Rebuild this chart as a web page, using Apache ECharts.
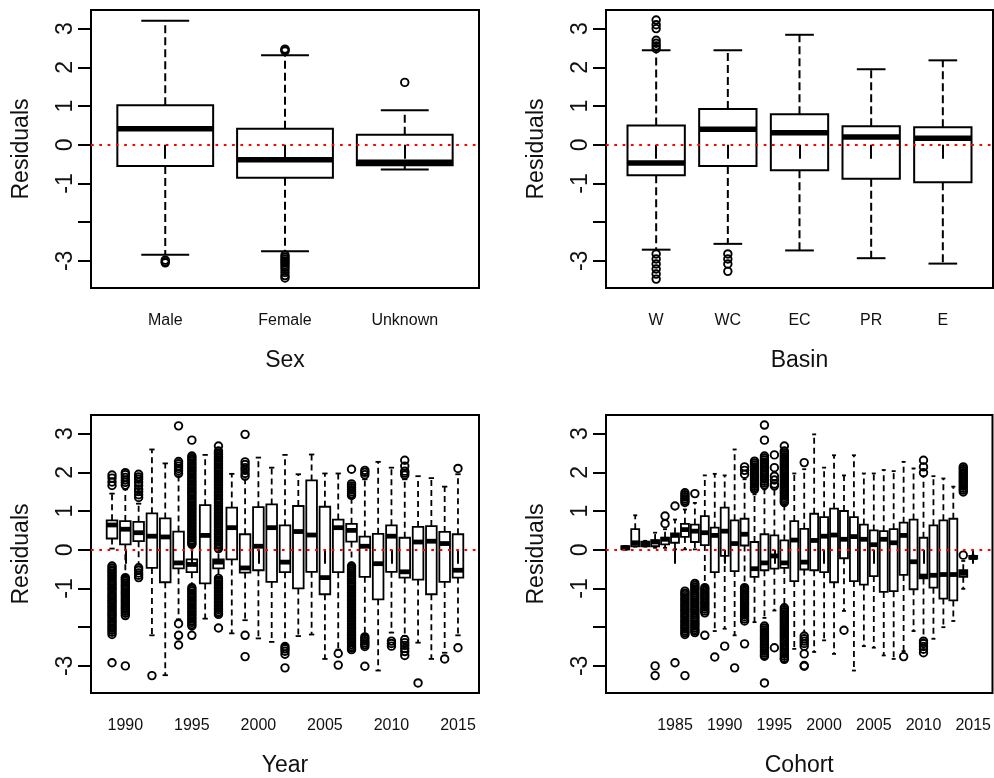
<!DOCTYPE html>
<html><head><meta charset="utf-8">
<script src="https://cdn.jsdelivr.net/npm/echarts@6.0.0/dist/echarts.min.js"></script>
<style>html,body{margin:0;padding:0;background:#fff}#c{width:994px;height:778px}</style>
</head><body><div id="c"></div><script>
// ---------- DATA ----------
var yTicks = [-3, -2, -1, 0, 1, 2, 3];
var yTickLabels = [-3, -1, 0, 1, 2, 3];

var sexCats = ['Male', 'Female', 'Unknown'];
// [lower whisker, Q1, median, Q3, upper whisker]
var sexStats = [
  [-2.84, -0.55, 0.41, 1.02, 3.20],
  [-2.75, -0.85, -0.39, 0.41, 2.31],
  [-0.64, -0.53, -0.45, 0.26, 0.89]
];
var sexOutliers = [
  [-2.98, -3.02, -3.05],
  [2.42, 2.45, 2.47, -2.85, -2.9, -2.95, -3.0, -3.05, -3.1, -3.16, -3.22, -3.3, -3.38, -3.44],
  [1.61]
];

var basinCats = ['W', 'WC', 'EC', 'PR', 'E'];
var basinStats = [
  [-2.71, -0.79, -0.47, 0.50, 2.44],
  [-2.56, -0.55, 0.40, 0.92, 2.44],
  [-2.73, -0.66, 0.31, 0.79, 2.84],
  [-2.93, -0.88, 0.20, 0.48, 1.95],
  [-3.07, -0.97, 0.17, 0.45, 2.18]
];
var basinOutliers = [
  [3.22, 3.1, 3.0, 2.7, 2.62, 2.55, 2.48, -2.82, -2.95, -3.08, -3.21, -3.34, -3.47],
  [-2.82, -2.95, -3.08, -3.27],
  [], [], []
];

var years = [1989,1990,1991,1992,1993,1994,1995,1996,1997,1998,1999,2000,2001,2002,2003,2004,2005,2006,2007,2008,2009,2010,2011,2012,2013,2014,2015];
var yearTicks = [1990, 1995, 2000, 2005, 2010, 2015];
var yearStats = [
  [0.03, 0.29, 0.64, 0.76, 1.45],
  [-0.68, 0.14, 0.53, 0.74, 1.56],
  [-0.38, 0.22, 0.44, 0.72, 1.19],
  [-2.21, -0.47, 0.35, 0.94, 2.59],
  [-3.24, -0.84, 0.33, 0.81, 2.23],
  [-1.80, -0.48, -0.34, 0.47, 1.90],
  [-0.90, -0.58, -0.38, -0.25, 0.10],
  [-1.78, -0.87, 0.37, 1.15, 2.45],
  [-0.70, -0.48, -0.32, -0.25, -0.02],
  [-2.16, -0.25, 0.57, 1.09, 1.96],
  [-1.82, -0.59, -0.47, 0.40, 1.82],
  [-2.29, -0.53, 0.09, 1.10, 2.38],
  [-2.38, -0.83, 0.57, 1.17, 2.12],
  [-2.45, -0.58, -0.32, 0.63, 2.45],
  [-2.23, -1.00, 0.47, 1.13, 1.95],
  [-2.19, -0.57, 0.38, 1.79, 2.46],
  [-2.82, -1.15, -0.72, 1.11, 1.97],
  [-2.58, -0.58, 0.57, 0.78, 1.97],
  [-0.34, 0.21, 0.50, 0.67, 1.34],
  [-2.19, -0.70, 0.09, 0.34, 1.82],
  [-3.12, -1.28, -0.36, 0.41, 2.27],
  [-2.14, -0.57, 0.35, 0.63, 2.12],
  [-2.23, -0.72, -0.57, 0.31, 1.82],
  [-2.40, -0.77, 0.20, 0.59, 1.90],
  [-2.82, -1.15, 0.22, 0.61, 1.85],
  [-2.66, -0.83, 0.16, 0.46, 1.63],
  [-2.21, -0.72, -0.53, 0.40, 1.95]
];
var yearOutliers = [
  [1.93,1.85,1.75,1.66,-0.42,-0.47,-0.52,-0.56,-0.61,-0.66,-0.7,-0.75,-0.8,-0.85,-0.89,-0.94,-0.99,-1.03,-1.08,-1.13,-1.18,-1.22,-1.27,-1.32,-1.36,-1.41,-1.46,-1.5,-1.55,-1.6,-1.65,-1.69,-1.74,-1.79,-1.84,-1.88,-1.93,-1.98,-2.03,-2.08,-2.13,-2.19,-2.92],
  [1.99,1.94,1.87,1.8,1.74,1.67,-0.72,-0.76,-0.81,-0.86,-0.91,-0.95,-1.0,-1.05,-1.1,-1.14,-1.19,-1.24,-1.29,-1.34,-1.39,-1.44,-1.49,-1.54,-1.59,-1.64,-1.7,-3.0],
  [1.95,1.88,1.82,1.74,1.66,1.57,1.5,1.42,1.35,-0.47,-0.53,-0.6,-0.66,-0.72],
  [-3.25],
  [],
  [3.2,2.28,2.22,2.16,2.1,2.04,1.97,-1.91,-2.21,-2.46],
  [2.83,2.42,2.38,2.33,2.29,2.24,2.2,2.15,2.11,2.06,2.02,1.97,1.93,1.88,1.84,1.79,1.75,1.7,1.66,1.61,1.57,1.52,1.48,1.43,1.39,1.34,1.3,1.25,1.21,1.16,1.12,1.07,1.03,0.98,0.94,0.89,0.85,0.8,0.76,0.71,0.67,0.62,0.58,0.53,0.49,0.44,0.4,0.35,0.31,0.26,0.22,0.17,0.14,-0.98,-1.03,-1.07,-1.12,-1.16,-1.21,-1.25,-1.3,-1.34,-1.39,-1.43,-1.48,-1.52,-1.57,-1.61,-1.66,-1.7,-1.75,-1.79,-1.84,-1.88,-1.93,-1.97,-2.21],
  [],
  [2.68,2.55,2.5,2.46,2.41,2.37,2.32,2.28,2.23,2.19,2.14,2.1,2.05,2.01,1.96,1.92,1.87,1.83,1.78,1.74,1.69,1.65,1.6,1.56,1.51,1.47,1.42,1.39,1.33,1.29,1.24,1.2,1.15,1.11,1.06,1.02,0.97,0.93,0.88,0.84,0.79,0.75,0.7,0.66,0.61,0.57,0.52,0.48,0.43,0.39,0.34,0.3,0.25,0.21,0.16,0.12,0.07,0.03,-0.74,-0.79,-0.83,-0.88,-0.92,-0.97,-1.01,-1.06,-1.1,-1.15,-1.19,-1.24,-1.28,-1.33,-1.37,-1.42,-1.46,-1.51,-1.55,-1.6,-1.64,-1.67,-2.02],
  [],
  [2.98,2.27,2.2,2.12,2.05,1.97,1.9,-2.21,-2.76],
  [],
  [],
  [-2.5,-2.56,-2.62,-2.7,-3.05],
  [],
  [],
  [],
  [-2.68,-2.98],
  [2.08,1.7,1.65,1.6,1.55,1.5,1.45,1.4,-0.42,-0.47,-0.51,-0.56,-0.6,-0.65,-0.69,-0.74,-0.78,-0.83,-0.87,-0.92,-0.96,-1.01,-1.05,-1.1,-1.14,-1.19,-1.23,-1.28,-1.32,-1.37,-1.41,-1.46,-1.5,-1.55,-1.59,-1.64,-1.68,-1.73,-1.77,-1.82,-1.86,-1.91,-1.95,-2.0,-2.04,-2.09,-2.13,-2.18,-2.22,-2.27,-2.31,-2.36,-2.4,-2.45,-2.5,-2.54,-2.58],
  [2.05,2.0,1.94,-2.25,-2.3,-2.35,-2.4,-2.45,-2.5,-3.01],
  [],
  [-2.36,-2.42,-2.49],
  [2.31,2.16,2.03,1.98,1.93,-2.32,-2.4,-2.47,-2.55,-2.63,-2.73],
  [-3.44],
  [],
  [-2.82],
  [2.10,-2.53]
];

var cohorts = [1980,1981,1982,1983,1984,1985,1986,1987,1988,1989,1990,1991,1992,1993,1994,1995,1996,1997,1998,1999,2000,2001,2002,2003,2004,2005,2006,2007,2008,2009,2010,2011,2012,2013,2014,2015];
var cohortTicks = [1985, 1990, 1995, 2000, 2005, 2010, 2015];
var cohortStats = [
  [0.00, 0.01, 0.05, 0.09, 0.10],
  [0.08, 0.09, 0.18, 0.53, 0.89],
  [0.08, 0.09, 0.16, 0.21, 0.23],
  [0.05, 0.09, 0.20, 0.25, 0.44],
  [0.05, 0.14, 0.27, 0.31, 0.53],
  [0.01, 0.18, 0.37, 0.42, 0.78],
  [0.01, 0.33, 0.52, 0.67, 1.04],
  [0.01, 0.20, 0.48, 0.65, 1.21],
  [-0.94, 0.12, 0.44, 0.87, 1.92],
  [-2.10, -0.58, 0.37, 0.57, 1.96],
  [-2.04, -0.16, 0.48, 1.09, 1.92],
  [-2.21, -0.55, 0.16, 0.76, 2.59],
  [-0.94, 0.11, 0.40, 0.80, 1.82],
  [-1.87, -0.70, -0.49, 0.20, 1.43],
  [-1.76, -0.53, -0.34, 0.40, 1.56],
  [-1.57, -0.49, -0.16, 0.37, 1.56],
  [-1.46, -0.47, -0.34, 0.24, 1.13],
  [-2.56, -0.81, 0.25, 0.74, 1.97],
  [-2.14, -0.51, -0.32, 0.54, 2.08],
  [-2.64, -0.53, 0.24, 0.93, 2.98],
  [-2.34, -0.58, 0.35, 0.84, 2.12],
  [-2.69, -0.84, 0.38, 1.06, 2.44],
  [-1.58, -0.22, 0.27, 1.00, 1.92],
  [-3.12, -0.81, 0.34, 0.84, 2.44],
  [-2.49, -0.90, 0.27, 0.65, 1.97],
  [-2.53, -0.68, 0.13, 0.50, 1.97],
  [-2.73, -1.09, 0.27, 0.48, 2.06],
  [-2.82, -1.07, 0.18, 0.53, 2.03],
  [-2.62, -0.65, 0.37, 0.70, 2.27],
  [-2.10, -1.02, -0.31, 0.78, 2.10],
  [-2.32, -0.74, -0.68, 0.31, 1.90],
  [-2.30, -0.98, -0.66, 0.63, 1.90],
  [-2.00, -1.26, -0.64, 0.76, 1.84],
  [-1.84, -1.31, -0.64, 0.80, 1.63],
  [-1.01, -0.70, -0.61, -0.53, -0.29],
  [-0.24, -0.23, -0.20, -0.16, -0.15]
];
var cohortOutliers = [
  [], [], [],
  [-3.0, -3.25],
  [0.87, 0.67],
  [1.13, -2.92],
  [1.47,1.42,1.37,1.32,1.27,1.22,-1.07,-1.12,-1.16,-1.21,-1.26,-1.3,-1.35,-1.4,-1.44,-1.49,-1.54,-1.58,-1.63,-1.68,-1.72,-1.77,-1.82,-1.86,-1.91,-1.96,-2.0,-2.05,-2.1,-2.14,-2.19,-3.25],
  [1.45,-0.87,-0.92,-0.97,-1.01,-1.06,-1.11,-1.16,-1.2,-1.25,-1.3,-1.35,-1.39,-1.44,-1.49,-1.54,-1.58,-1.63,-1.68,-1.73,-1.77,-1.82,-1.87,-1.92,-1.96,-2.01,-2.06,-2.1,-2.14],
  [-0.98,-1.03,-1.08,-1.13,-1.18,-1.23,-1.28,-1.33,-1.38,-1.43,-1.48,-1.53,-1.58,-1.63,-2.21],
  [-2.77],
  [-2.49],
  [-3.05],
  [2.14,2.05,1.95,-0.98,-1.03,-1.08,-1.13,-1.18,-1.23,-1.28,-1.33,-1.38,-1.43,-1.48,-1.53,-1.58,-1.63,-1.68,-1.73,-1.79,-1.84,-2.43],
  [2.29,2.24,2.19,2.14,2.09,2.04,1.99,1.94,1.89,1.84,1.79,1.74,1.69,1.64,1.6,1.56],
  [3.22,2.83,2.42,2.37,2.32,2.27,2.22,2.17,2.12,2.07,2.02,1.97,1.92,1.87,1.82,1.77,1.72,1.67,-1.97,-2.02,-2.07,-2.12,-2.17,-2.22,-2.27,-2.32,-2.37,-2.42,-2.47,-2.52,-2.57,-2.62,-2.67,-2.72,-2.75,-3.44],
  [2.45,2.12,1.9,1.8,1.7,1.65,-2.53],
  [2.68,2.55,2.5,2.45,2.4,2.35,2.3,2.25,2.2,2.15,2.1,2.05,2.0,1.95,1.9,1.85,1.8,1.75,1.7,1.65,1.6,1.55,1.5,1.45,1.4,1.35,1.3,1.26,1.22,-1.5,-1.55,-1.6,-1.65,-1.7,-1.75,-1.8,-1.85,-1.9,-1.95,-2.0,-2.05,-2.1,-2.15,-2.2,-2.25,-2.3,-2.35,-2.4,-2.45,-2.5,-2.55,-2.6,-2.65,-2.7,-2.75,-2.8,-2.83],
  [],
  [2.25,-2.23,-2.3,-2.36,-2.42,-2.49,-2.69,-2.99,-3.01],
  [], [], [],
  [-2.08],
  [], [], [], [], [],
  [-2.76],
  [],
  [2.31,2.14,1.99,-2.36,-2.42,-2.5,-2.57,-2.66],
  [], [], [],
  [2.14,2.09,2.04,1.99,1.94,1.89,1.84,1.79,1.74,1.69,1.64,1.59,1.54,1.49,-0.14],
  []
];

// ---------- BUILD ----------
var FONT = '"Liberation Sans", Arial, sans-serif';
var TXT = '#111';
var Y_MIN = -3.7, Y_MAX = 3.48;

function boxData(pos, stats) {
  return stats.map(function (s, i) { return [pos[i]].concat(s); });
}
function outData(pos, outs) {
  var d = [];
  outs.forEach(function (arr, i) { arr.forEach(function (v) { d.push([pos[i], v]); }); });
  return d;
}
function makeRender(lw, mlw, dash) {
  return function (params, api) {
    var x = api.value(0);
    var lo = api.coord([x, api.value(1)])[1];
    var q1 = api.coord([x, api.value(2)])[1];
    var md = api.coord([x, api.value(3)])[1];
    var q3 = api.coord([x, api.value(4)])[1];
    var hi = api.coord([x, api.value(5)])[1];
    var cx = api.coord([x, 0])[0];
    var bl = api.coord([x - 0.4, 0])[0], br = api.coord([x + 0.4, 0])[0];
    var cl = api.coord([x - 0.2, 0])[0], cr = api.coord([x + 0.2, 0])[0];
    var solid = { stroke: '#000', lineWidth: lw, fill: null };
    var dashed = { stroke: '#000', lineWidth: lw, lineDash: dash, fill: null };
    return { type: 'group', children: [
      { type: 'line', shape: { x1: cx, y1: q3, x2: cx, y2: hi }, style: dashed },
      { type: 'line', shape: { x1: cx, y1: q1, x2: cx, y2: lo }, style: dashed },
      { type: 'line', shape: { x1: cl, y1: hi, x2: cr, y2: hi }, style: solid },
      { type: 'line', shape: { x1: cl, y1: lo, x2: cr, y2: lo }, style: solid },
      { type: 'rect', shape: { x: bl, y: q3, width: br - bl, height: q1 - q3 }, style: { stroke: '#000', lineWidth: lw, fill: 'rgba(0,0,0,0)' } },
      { type: 'line', shape: { x1: bl, y1: md, x2: br, y2: md }, style: { stroke: '#000', lineWidth: mlw } }
    ] };
  };
}

var panels = [
  { grid: { left: 91, top: 10, width: 388, height: 278 }, n: 3, pos: [1, 2, 3], ticks: [1, 2, 3], cats: sexCats, stats: sexStats, outs: sexOutliers, name: 'Sex', lw: 2, mlw: 5.5, dash: [8, 4], tickFont: 16 },
  { grid: { left: 606, top: 10, width: 387, height: 278 }, n: 5, pos: [1, 2, 3, 4, 5], ticks: [1, 2, 3, 4, 5], cats: basinCats, stats: basinStats, outs: basinOutliers, name: 'Basin', lw: 2, mlw: 5.5, dash: [8, 4], tickFont: 16 },
  { grid: { left: 91, top: 415, width: 388, height: 278 }, n: years.length, pos: years, ticks: yearTicks, cats: null, stats: yearStats, outs: yearOutliers, name: 'Year', lw: 1.8, mlw: 4.8, dash: [6, 4], tickFont: 16 },
  { grid: { left: 606, top: 415, width: 388, height: 278 }, n: cohorts.length, pos: cohorts, ticks: cohortTicks, cats: null, stats: cohortStats, outs: cohortOutliers, name: 'Cohort', lw: 1.8, mlw: 4.8, dash: [6, 4], tickFont: 16 }
];

var grids = [], xAxes = [], yAxes = [], series = [];
panels.forEach(function (p, gi) {
  grids.push(Object.assign({ show: true, borderColor: '#000', borderWidth: 2, backgroundColor: 'transparent' }, p.grid));
  var ext = 0.5 + 0.04 * p.n;
  var cats = p.cats, pos = p.pos;
  xAxes.push({
    gridIndex: gi, type: 'value',
    min: pos[0] - ext, max: pos[pos.length - 1] + ext,
    axisLine: { show: false }, splitLine: { show: false },
    axisTick: { show: true, length: 14, customValues: p.ticks, lineStyle: { color: '#000', width: 2 } },
    axisLabel: { show: true, customValues: p.ticks, margin: 25, fontSize: p.tickFont, color: TXT, fontFamily: FONT,
      formatter: cats ? function (v) { return cats[Math.round(v) - 1]; } : function (v) { return String(Math.round(v)); } },
    name: p.name, nameLocation: 'middle', nameGap: 61,
    nameTextStyle: { fontSize: 23, color: TXT, fontFamily: FONT }
  });
  yAxes.push({
    gridIndex: gi, type: 'value', min: Y_MIN, max: Y_MAX,
    axisLine: { show: false }, splitLine: { show: false },
    axisTick: { show: true, length: 13, customValues: yTicks, lineStyle: { color: '#000', width: 2 } },
    axisLabel: { show: true, customValues: yTickLabels, rotate: 90, margin: 14, fontSize: 23, color: TXT, fontFamily: FONT },
    name: 'Residuals', nameLocation: 'middle', nameGap: 58,
    nameTextStyle: { fontSize: 23, color: TXT, fontFamily: FONT }
  });
  series.push({
    type: 'custom', xAxisIndex: gi, yAxisIndex: gi, silent: true, z: 2,
    renderItem: makeRender(p.lw, p.mlw, p.dash),
    encode: { x: 0, y: [1, 2, 3, 4, 5] },
    data: boxData(pos, p.stats)
  });
  series.push({
    type: 'scatter', xAxisIndex: gi, yAxisIndex: gi, silent: true, z: 3,
    symbol: 'circle', symbolSize: 7.5,
    itemStyle: { color: 'rgba(0,0,0,0)', borderColor: '#000', borderWidth: 1.9, opacity: 1 },
    data: outData(pos, p.outs),
    markLine: { silent: true, symbol: 'none', label: { show: false }, animation: false,
      lineStyle: { color: '#ff0000', width: 2, type: [2.7, 5.6] },
      data: [{ yAxis: 0 }] }
  });
});

var chart = echarts.init(document.getElementById('c'), null, { renderer: 'canvas' });
chart.setOption({
  animation: false,
  backgroundColor: '#fff',
  grid: grids, xAxis: xAxes, yAxis: yAxes, series: series
});
</script></body></html>
